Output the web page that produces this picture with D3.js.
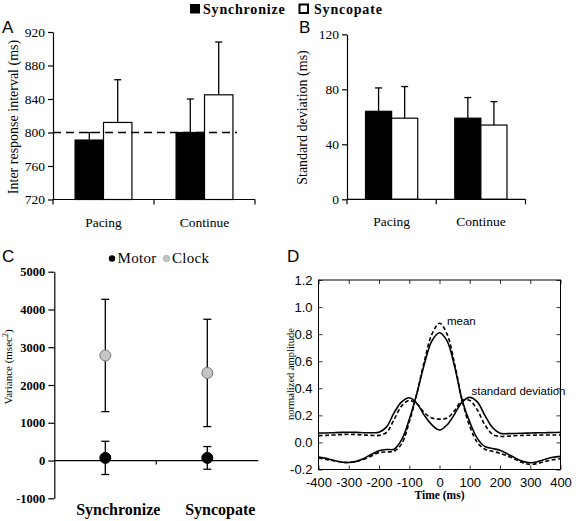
<!DOCTYPE html>
<html><head><meta charset="utf-8">
<script src="https://cdn.jsdelivr.net/npm/d3@7"></script>
<style>
html,body{margin:0;padding:0;background:#fff;}
svg{display:block;}
</style></head>
<body>
<script>
// ---------- DATA ----------
const conditions = ["Pacing", "Continue"];
const tasks = ["Synchronize", "Syncopate"];
// Panel A: inter response interval (ms)
const iriSync = [791, 800];
const iriSyncErr = [9, 40];
const iriSyncop = [812, 845];
const iriSyncopErr = [51, 63];
const iriTarget = 800;
const iriTicks = [720, 760, 800, 840, 880, 920];
// Panel B: standard deviation (ms)
const sdSync = [64, 59];
const sdSyncErr = [17, 15];
const sdSyncop = [59, 54];
const sdSyncopErr = [23, 17];
const sdTicks = [0, 40, 80, 120];
// Panel C: variance (msec^2)
const varGroups = ["Synchronize", "Syncopate"];
const motorVar = [70, 70];
const motorErr = [440, 300];
const clockVar = [2782, 2320];
const clockErr = [1487, 1421];
const varTicks = [-1000, 0, 1000, 2000, 3000, 4000, 5000];
// Panel D: normalized amplitude vs time (ms)
const timeMs = [-400,-375,-350,-325,-300,-275,-250,-225,-200,-175,-150,-125,-100,-75,-50,-25,0,25,50,75,100,125,150,175,200,225,250,275,300,325,350,375,400];
const meanSolid = [-0.108,-0.118,-0.132,-0.144,-0.148,-0.14,-0.118,-0.088,-0.062,-0.052,-0.05,0.02,0.17,0.36,0.58,0.75,0.81,0.75,0.56,0.31,0.15,0.03,-0.03,-0.045,-0.058,-0.085,-0.115,-0.14,-0.15,-0.142,-0.125,-0.11,-0.103];
const meanDashed = [-0.115,-0.125,-0.135,-0.145,-0.148,-0.14,-0.125,-0.1,-0.075,-0.07,-0.065,-0.01,0.15,0.36,0.6,0.8,0.88,0.8,0.58,0.31,0.12,0.0,-0.05,-0.065,-0.08,-0.1,-0.125,-0.15,-0.162,-0.155,-0.14,-0.128,-0.12];
const sdSolid = [0.07,0.07,0.072,0.074,0.075,0.074,0.072,0.072,0.075,0.115,0.22,0.30,0.33,0.29,0.2,0.13,0.092,0.13,0.21,0.3,0.333,0.3,0.2,0.11,0.068,0.065,0.066,0.068,0.07,0.071,0.072,0.073,0.075];
const sdDashed = [0.05,0.052,0.055,0.058,0.06,0.058,0.055,0.052,0.052,0.075,0.17,0.27,0.31,0.285,0.22,0.18,0.172,0.18,0.235,0.31,0.31,0.24,0.13,0.06,0.045,0.046,0.05,0.052,0.053,0.054,0.055,0.055,0.056];
const dXTicks = [-400,-300,-200,-100,0,100,200,300,400];
const dYTicks = [-0.2,0,0.2,0.4,0.6,0.8,1.0,1.2];

const SERIF = "'Liberation Serif', 'Times New Roman', Tinos, Times, 'DejaVu Serif', serif";
const SANS = "'Liberation Sans', Arial, Arimo, Helvetica, sans-serif";

// ---------- SVG ----------
const W = 576, H = 521;
const svg = d3.select("body").append("svg").attr("width", W).attr("height", H);
svg.append("rect").attr("width", W).attr("height", H).attr("fill", "#fff");

// Top legend
const leg = svg.append("g");
leg.append("rect").attr("x", 190).attr("y", 4).attr("width", 10).attr("height", 9.5).attr("fill", "#000");
leg.append("text").attr("x", 203).attr("y", 13.5).attr("font-family", SERIF).attr("font-size", 14).attr("font-weight", "bold")
  .attr("letter-spacing", 0.8).text("Synchronize");
leg.append("rect").attr("x", 299.5).attr("y", 4.5).attr("width", 8.5).attr("height", 8.5).attr("fill", "#fff").attr("stroke", "#000").attr("stroke-width", 2);
leg.append("text").attr("x", 314).attr("y", 13.5).attr("font-family", SERIF).attr("font-size", 14).attr("font-weight", "bold")
  .attr("letter-spacing", 0.8).text("Syncopate");

// Panel letters
[["A", 2, 33], ["B", 299, 33], ["C", 2, 262], ["D", 287, 262]].forEach(([t, x, y]) => {
  svg.append("text").attr("font-family", SANS).attr("x", x).attr("y", y).attr("font-size", 17).text(t);
});

// ---------- Bar panel helper ----------
function barPanel(opt) {
  const g = svg.append("g");
  const y = d3.scaleLinear().domain(opt.domain).range(opt.yRange);
  const x = d3.scaleBand().domain(conditions).range(opt.xRange).paddingInner(opt.pad).paddingOuter(opt.pad / 2);
  const sub = d3.scaleBand().domain(tasks).range([0, x.bandwidth()]);
  const y0 = y(opt.domain[0]);
  // y axis
  const ya = d3.axisLeft(y).tickValues(opt.ticks).tickSize(5).tickSizeOuter(0).tickPadding(3).tickFormat(d3.format("d"));
  const yg = g.append("g").attr("transform", `translate(${opt.xRange[0]},0)`).call(ya);
  yg.selectAll("text").attr("font-family", SERIF).attr("font-size", 13.5).attr("fill", "#000");
  yg.selectAll("line,path").attr("stroke", "#000").attr("stroke-width", 1.2);
  // bars
  const series = [
    {task: "Synchronize", vals: opt.sync, errs: opt.syncErr, fill: "#000"},
    {task: "Syncopate", vals: opt.syncop, errs: opt.syncopErr, fill: "#fff"}
  ];
  series.forEach(s => {
    conditions.forEach((c, i) => {
      const bx = x(c) + sub(s.task);
      const top = y(s.vals[i]);
      const cx = bx + sub.bandwidth() / 2;
      const et = y(s.vals[i] + s.errs[i]);
      g.append("line").attr("x1", cx).attr("x2", cx).attr("y1", top).attr("y2", et).attr("stroke", "#000").attr("stroke-width", 1.3);
      g.append("line").attr("x1", cx - 3.5).attr("x2", cx + 3.5).attr("y1", et).attr("y2", et).attr("stroke", "#000").attr("stroke-width", 1.3);
      g.append("rect").attr("x", bx).attr("y", top).attr("width", sub.bandwidth()).attr("height", y0 - top)
        .attr("fill", s.fill).attr("stroke", "#000").attr("stroke-width", 1.2);
    });
  });
  // x axis (ticks at category boundaries)
  const step = x.step();
  const bounds = [opt.xRange[0], x(conditions[1]) - x.paddingInner() * step / 2, opt.xRange[1]];
  g.append("line").attr("x1", opt.xRange[0]).attr("x2", opt.xRange[1]).attr("y1", y0).attr("y2", y0).attr("stroke", "#000").attr("stroke-width", 1.2);
  bounds.forEach(b => g.append("line").attr("x1", b).attr("x2", b).attr("y1", y0).attr("y2", y0 + 5).attr("stroke", "#000").attr("stroke-width", 1.2));
  conditions.forEach(c => {
    g.append("text").attr("font-family", SERIF).attr("x", x(c) + x.bandwidth() / 2).attr("y", y0 + 27)
      .attr("text-anchor", "middle").attr("font-size", 13.5).text(c);
  });
  // y label
  g.append("text").attr("font-family", SERIF).attr("font-size", 14)
    .attr("transform", `translate(${opt.labelX},${opt.labelY}) rotate(-90)`).attr("text-anchor", "middle").text(opt.label);
  return {g, x, y};
}

const pA = barPanel({domain: [720, 920], yRange: [199.5, 32], xRange: [53, 255], pad: 0.437,
  ticks: iriTicks, sync: iriSync, syncErr: iriSyncErr, syncop: iriSyncop, syncopErr: iriSyncopErr,
  label: "Inter response interval (ms)", labelX: 17.5, labelY: 117});
// dashed target line
pA.g.append("line").attr("x1", 53).attr("x2", 237).attr("y1", pA.y(iriTarget)).attr("y2", pA.y(iriTarget))
  .attr("stroke", "#000").attr("stroke-width", 1.5).attr("stroke-dasharray", "8,5");

barPanel({domain: [0, 120], yRange: [199.3, 34.3], xRange: [347, 525.5], pad: 0.415,
  ticks: sdTicks, sync: sdSync, syncErr: sdSyncErr, syncop: sdSyncop, syncopErr: sdSyncopErr,
  label: "Standard deviation (ms)", labelX: 307, labelY: 117.5});

// ---------- Panel C ----------
{
  const g = svg.append("g");
  const y = d3.scaleLinear().domain([-1000, 5000]).range([498.3, 271.7]);
  const x = d3.scalePoint().domain(varGroups).range([54.3, 258.3]).padding(0.5);
  const ya = d3.axisLeft(y).tickValues(varTicks).tickSize(6).tickSizeOuter(0).tickPadding(3).tickFormat(d => d < 0 ? "-" + Math.abs(d) : String(d));
  const yg = g.append("g").attr("transform", "translate(54.3,0)").call(ya);
  yg.selectAll("text").attr("font-family", SERIF).attr("font-size", 12.5).attr("font-weight", "bold").attr("fill", "#000");
  yg.selectAll("line,path").attr("stroke", "#000").attr("stroke-width", 1.2);
  const y0 = y(0);
  g.append("line").attr("x1", 54.3).attr("x2", 258.3).attr("y1", y0).attr("y2", y0).attr("stroke", "#000").attr("stroke-width", 1.2);
  g.append("line").attr("x1", 156.3).attr("x2", 156.3).attr("y1", y0).attr("y2", y0 + 4).attr("stroke", "#000").attr("stroke-width", 1.2);
  const sets = [{v: clockVar, e: clockErr, fill: "#c4c4c4"}, {v: motorVar, e: motorErr, fill: "#000"}];
  sets.forEach(s => {
    varGroups.forEach((c, i) => {
      const cx = x(c);
      const t = y(s.v[i] + s.e[i]), b = y(s.v[i] - s.e[i]);
      g.append("line").attr("x1", cx).attr("x2", cx).attr("y1", t).attr("y2", b).attr("stroke", "#000").attr("stroke-width", 1.3);
      [t, b].forEach(yy => g.append("line").attr("x1", cx - 4).attr("x2", cx + 4).attr("y1", yy).attr("y2", yy).attr("stroke", "#000").attr("stroke-width", 1.3));
      g.append("circle").attr("cx", cx).attr("cy", y(s.v[i])).attr("r", 5.5).attr("fill", s.fill).attr("stroke", s.fill === "#000" ? "#000" : "#777").attr("stroke-width", 1);
    });
  });
  varGroups.forEach(c => {
    g.append("text").attr("font-family", SERIF).attr("x", x(c) + 13).attr("y", 515).attr("text-anchor", "middle")
      .attr("font-size", 16).attr("font-weight", "bold").text(c);
  });
  const yl = g.append("text").attr("font-family", SERIF).attr("font-size", 11)
    .attr("transform", "translate(12,367) rotate(-90)").attr("text-anchor", "middle");
  yl.append("tspan").text("Variance (msec");
  yl.append("tspan").attr("dy", -4).attr("font-size", 8).text("2");
  yl.append("tspan").attr("dy", 4).text(")");
  // legend
  const lg = g.append("g");
  lg.append("circle").attr("cx", 112).attr("cy", 258.5).attr("r", 3.2).attr("fill", "#000");
  lg.append("text").attr("font-family", SERIF).attr("x", 117.5).attr("y", 263).attr("font-size", 15).attr("letter-spacing", 0.3).text("Motor");
  lg.append("circle").attr("cx", 166.5).attr("cy", 258.5).attr("r", 3.2).attr("fill", "#c4c4c4").attr("stroke", "#999").attr("stroke-width", 0.6);
  lg.append("text").attr("font-family", SERIF).attr("x", 172).attr("y", 263).attr("font-size", 15).attr("letter-spacing", 0.3).text("Clock");
}

// ---------- Panel D ----------
{
  const g = svg.append("g");
  const L = 318.5, R = 560.5, T = 280, B = 469.5;
  const x = d3.scaleLinear().domain([-400, 400]).range([L, R]);
  const y = d3.scaleLinear().domain([-0.2, 1.2]).range([B, T]);
  const fmtY = d => (d < 0 ? "-" : "") + Math.abs(d).toFixed(1);
  const fmtX = d => (d < 0 ? "-" : "") + Math.abs(d);
  const axB = g.append("g").attr("transform", `translate(0,${B})`).call(d3.axisBottom(x).tickValues(dXTicks).tickSizeInner(-4).tickSizeOuter(0).tickPadding(8).tickFormat(fmtX));
  const axL = g.append("g").attr("transform", `translate(${L},0)`).call(d3.axisLeft(y).tickValues(dYTicks).tickSizeInner(-4).tickSizeOuter(0).tickPadding(6).tickFormat(fmtY));
  const axT = g.append("g").attr("transform", `translate(0,${T})`).call(d3.axisTop(x).tickValues(dXTicks).tickSizeInner(-4).tickSizeOuter(0).tickFormat(""));
  const axR = g.append("g").attr("transform", `translate(${R},0)`).call(d3.axisRight(y).tickValues(dYTicks).tickSizeInner(-4).tickSizeOuter(0).tickFormat(""));
  [axB, axL, axT, axR].forEach(a => {
    a.attr("font-family", SANS);
    a.selectAll("path").remove();
    a.selectAll("line").attr("stroke", "#000").attr("stroke-width", 0.8);
    a.selectAll("text").attr("font-family", SANS).attr("font-size", 13).attr("fill", "#000");
  });
  g.append("rect").attr("x", L).attr("y", T).attr("width", R - L).attr("height", B - T).attr("fill", "none").attr("stroke", "#000").attr("stroke-width", 1);
  const line = d3.line().x((d, i) => x(timeMs[i])).y(d => y(d)).curve(d3.curveCatmullRom.alpha(0.5));
  [[sdDashed, "4,2.5"], [meanDashed, "4,2.5"], [sdSolid, null], [meanSolid, null]].forEach(([arr, dash]) => {
    const p = g.append("path").attr("d", line(arr)).attr("fill", "none").attr("stroke", "#000").attr("stroke-width", 1.6);
    if (dash) p.attr("stroke-dasharray", dash);
  });
  g.append("text").attr("font-family", SANS).attr("x", 447).attr("y", 325).attr("font-size", 11.5).text("mean");
  g.append("text").attr("font-family", SANS).attr("x", 471.5).attr("y", 395).attr("font-size", 11.5).text("standard deviation");
  g.append("text").attr("font-family", SERIF).attr("font-size", 11.5).attr("font-weight", "bold")
    .attr("x", (L + R) / 2).attr("y", 499).attr("text-anchor", "middle").text("Time (ms)");
  g.append("text").attr("font-family", SERIF).attr("font-size", 10.5)
    .attr("transform", `translate(294,374) rotate(-90)`).attr("text-anchor", "middle").text("normalized amplitude");
}
</script>
</body></html>
